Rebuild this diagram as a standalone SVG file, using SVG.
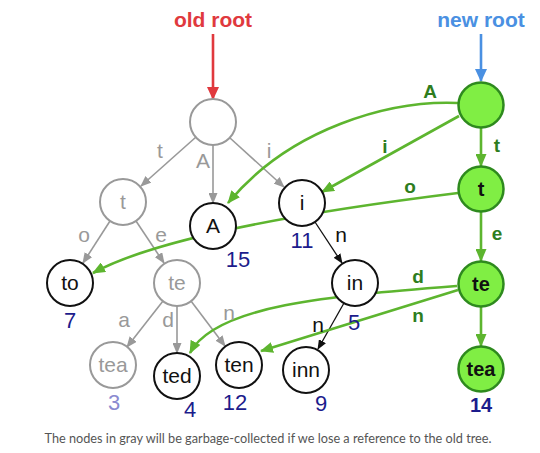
<svg xmlns="http://www.w3.org/2000/svg" width="540" height="453" viewBox="0 0 540 453">
<style>
.gn{fill:#fff;stroke:#999;stroke-width:2}
.bn{fill:#fff;stroke:#111;stroke-width:2}
.grn{fill:#80ee44;stroke:#2e8a1e;stroke-width:2.5}
.gl{font-family:"Liberation Sans",Arial,sans-serif;font-size:21px;fill:#999;text-anchor:middle}
.bl{font-family:"Liberation Sans",Arial,sans-serif;font-size:21px;fill:#111;text-anchor:middle}
.gbl{font-family:"Liberation Sans",Arial,sans-serif;font-size:20px;font-weight:bold;fill:#111;text-anchor:middle}
.num{font-family:"Liberation Sans",Arial,sans-serif;font-size:22px;fill:#1c1c8c;text-anchor:middle}
.numb{font-family:"Liberation Sans",Arial,sans-serif;font-size:20px;font-weight:bold;fill:#1c1c8c;text-anchor:middle}
.el{font-family:"Liberation Sans",Arial,sans-serif;font-size:21px;fill:#999;text-anchor:middle}
.ebl{font-family:"Liberation Sans",Arial,sans-serif;font-size:21px;fill:#111;text-anchor:middle}
.egl{font-family:"Liberation Sans",Arial,sans-serif;font-size:19px;font-weight:bold;fill:#2e7d1e;text-anchor:middle}
.ge{stroke:#999;stroke-width:1.6;fill:none;marker-end:url(#ag)}
.be{stroke:#111;stroke-width:1.3;fill:none;marker-end:url(#ab)}
.ve{stroke:#5db52f;stroke-width:2.6;fill:none;marker-end:url(#av)}
</style>
<defs>
<marker id="ag" markerWidth="11" markerHeight="9" refX="10" refY="4.5" orient="auto" markerUnits="userSpaceOnUse"><path d="M0,0 L11,4.5 L0,9 z" fill="#999"/></marker>
<marker id="ab" markerWidth="10" markerHeight="8" refX="9" refY="4" orient="auto" markerUnits="userSpaceOnUse"><path d="M0,0 L10,4 L0,8 z" fill="#111"/></marker>
<marker id="av" markerWidth="13" markerHeight="11" refX="12" refY="5.5" orient="auto" markerUnits="userSpaceOnUse"><path d="M0,0 L13,5.5 L0,11 z" fill="#5db52f"/></marker>
<marker id="ar" markerWidth="13" markerHeight="12" refX="12" refY="6" orient="auto" markerUnits="userSpaceOnUse"><path d="M0,0 L13,6 L0,12 z" fill="#e0393e"/></marker>
<marker id="au" markerWidth="13" markerHeight="12" refX="12" refY="6" orient="auto" markerUnits="userSpaceOnUse"><path d="M0,0 L13,6 L0,12 z" fill="#4a90e2"/></marker>
</defs>
<rect width="540" height="453" fill="#fff"/>

<g id="old-root-label">
<text x="213" y="27" font-family="Liberation Sans,Arial,sans-serif" font-size="21" font-weight="bold" fill="#e0393e" text-anchor="middle">old root</text>
</g>
<g id="new-root-label">
<text x="481" y="27" font-family="Liberation Sans,Arial,sans-serif" font-size="21" font-weight="bold" fill="#4a90e2" text-anchor="middle">new root</text>
</g>

<g id="connectors">
<line x1="213" y1="34" x2="213" y2="99" stroke="#e0393e" stroke-width="2.6" marker-end="url(#ar)"/>
<line x1="481" y1="34" x2="481" y2="81" stroke="#4a90e2" stroke-width="2.6" marker-end="url(#au)"/>
<line class="ge" x1="196" y1="137" x2="141" y2="186"/>
<line class="ge" x1="213" y1="145" x2="213" y2="203"/>
<line class="ge" x1="230" y1="138" x2="284" y2="187"/>
<line class="ge" x1="110" y1="221" x2="83" y2="263"/>
<line class="ge" x1="136" y1="221" x2="164" y2="263"/>
<line class="ge" x1="163" y1="301" x2="127" y2="347"/>
<line class="ge" x1="177" y1="306" x2="177" y2="353"/>
<line class="ge" x1="191" y1="301" x2="225" y2="346"/>
<line class="be" x1="315" y1="222" x2="342" y2="263"/>
<line class="be" x1="344" y1="303" x2="318" y2="349"/>
<line class="ve" x1="481" y1="128" x2="481" y2="166"/>
<line class="ve" x1="481" y1="212" x2="481" y2="261"/>
<line class="ve" x1="481" y1="307" x2="481" y2="346"/>
<path class="ve" d="M458,103 C390,100 290,128 228,203"/>
<line class="ve" x1="459" y1="116" x2="322" y2="192"/>
<path class="ve" d="M458,193 Q175,228 93,273"/>
<path class="ve" d="M457,286 C330,296 215,305 190,353"/>
<line class="ve" x1="458" y1="290" x2="261" y2="351"/>
<text class="el" x="160" y="158">t</text>
<text class="el" x="203" y="168">A</text>
<text class="el" x="269" y="158">i</text>
<text class="el" x="84" y="242">o</text>
<text class="el" x="161" y="242">e</text>
<text class="el" x="124" y="327">a</text>
<text class="el" x="168" y="327">d</text>
<text class="el" x="229" y="320">n</text>
<text class="ebl" x="341" y="242">n</text>
<text class="ebl" x="318" y="332">n</text>
<text class="egl" x="430" y="98">A</text>
<text class="egl" x="385" y="153">i</text>
<text class="egl" x="497" y="152">t</text>
<text class="egl" x="410" y="193">o</text>
<text class="egl" x="497" y="240">e</text>
<text class="egl" x="418" y="283">d</text>
<text class="egl" x="418" y="322">n</text>
</g>

<g id="node-old-root"><circle class="gn" cx="213" cy="122" r="23"/></g>
<g id="node-t-old"><circle class="gn" cx="123" cy="202" r="23"/><text class="gl" x="123" y="209">t</text></g>
<g id="node-A"><circle class="bn" cx="213" cy="226" r="23"/><text class="bl" x="213" y="233">A</text><text class="num" x="238" y="267">15</text></g>
<g id="node-i"><circle class="bn" cx="302" cy="203" r="23"/><text class="bl" x="302" y="210">i</text><text class="num" x="302" y="248">11</text></g>
<g id="node-to"><circle class="bn" cx="70" cy="283" r="23"/><text class="bl" x="70" y="290">to</text><text class="num" x="70" y="328">7</text></g>
<g id="node-te-old"><circle class="gn" cx="177" cy="283" r="23"/><text class="gl" x="177" y="290">te</text></g>
<g id="node-in"><circle class="bn" cx="355" cy="283" r="23"/><text class="bl" x="355" y="290">in</text><text class="num" x="354" y="330">5</text></g>
<g id="node-tea-old"><circle class="gn" cx="113" cy="365" r="23"/><text class="gl" x="113" y="372">tea</text><text class="num" x="114" y="410" style="fill:#8a8ad0">3</text></g>
<g id="node-ted"><circle class="bn" cx="177" cy="376" r="23"/><text class="bl" x="177" y="383">ted</text><text class="num" x="190" y="417">4</text></g>
<g id="node-ten"><circle class="bn" cx="239" cy="365" r="23"/><text class="bl" x="239" y="372">ten</text><text class="num" x="235" y="410">12</text></g>
<g id="node-inn"><circle class="bn" cx="306" cy="370" r="23"/><text class="bl" x="306" y="377">inn</text><text class="num" x="321" y="411">9</text></g>
<g id="node-new-root"><circle class="grn" cx="481" cy="105" r="22.5"/></g>
<g id="node-t-new"><circle class="grn" cx="481" cy="189" r="22.5"/><text class="gbl" x="481" y="196">t</text></g>
<g id="node-te-new"><circle class="grn" cx="481" cy="284" r="22.5"/><text class="gbl" x="481" y="291">te</text></g>
<g id="node-tea-new"><circle class="grn" cx="481" cy="369" r="22.5"/><text class="gbl" x="481" y="376">tea</text><text class="numb" x="481" y="412">14</text></g>

<g id="caption">
<text x="268" y="443" font-family="Lato,'Open Sans',sans-serif" font-size="14" fill="#555" text-anchor="middle" textLength="447" lengthAdjust="spacingAndGlyphs">The nodes in gray will be garbage-collected if we lose a reference to the old tree.</text>
</g>
</svg>
